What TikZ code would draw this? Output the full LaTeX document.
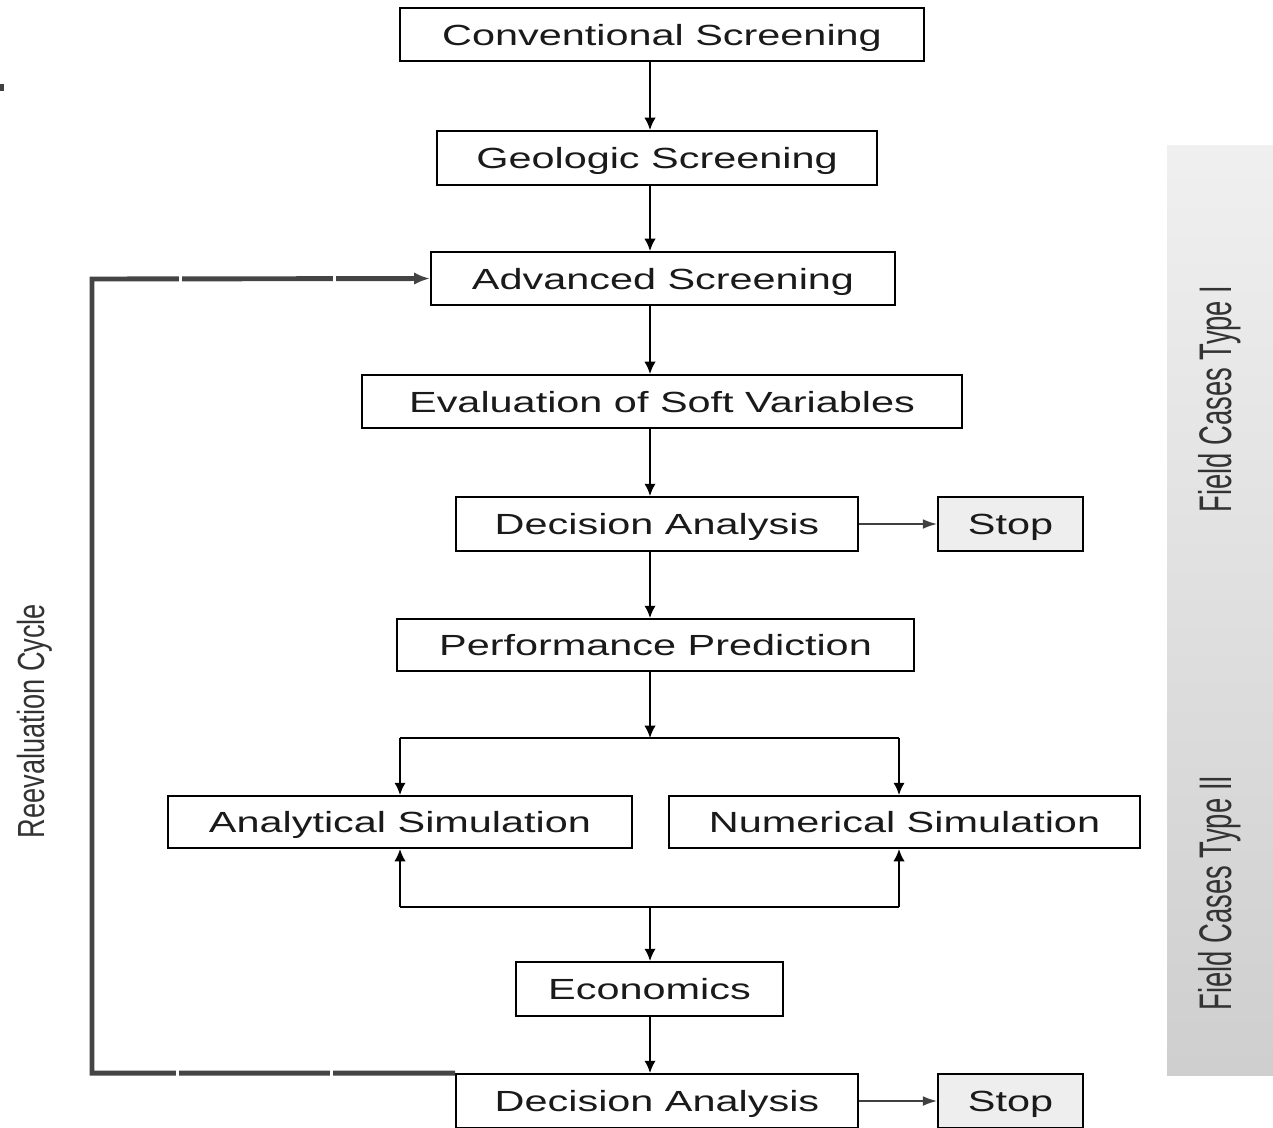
\documentclass[tikz,border=0pt]{standalone}
\usepackage{fontspec}
\setmainfont{Liberation Sans}
\newfontfamily\widefont[FakeStretch=1.42]{Liberation Sans}
\newfontfamily\cyclefont[FakeStretch=0.72]{Liberation Sans}
\newfontfamily\bandfont[FakeStretch=0.6]{Liberation Sans}
\usetikzlibrary{arrows.meta}

\definecolor{txt}{HTML}{1A1A1A}
\definecolor{cyclegray}{HTML}{444444}
\definecolor{stopfill}{HTML}{EEEEEE}
\def\pxu{0.02cm}

\tikzset{wh/.style 2 args={minimum width=#1*\pxu, minimum height=#2*\pxu}}

\begin{document}
\begin{tikzpicture}[x=0.02cm, y=-0.02cm,
   box/.style={draw=black, line width=1.1pt, inner sep=0pt, text=txt,
      text depth=0pt, font=\widefont\fontsize{16.6}{18}\selectfont},
   stopbox/.style={box, fill=stopfill},
   arr/.style={line width=1.1pt, -{Latex[length=7pt,width=6.5pt]}},
   stoparr/.style={line width=0.9pt, draw=black!75, -{Latex[length=8pt,width=5.5pt]}},
   plain/.style={line width=1.1pt},
   cycleline/.style={line width=2.8pt, draw=cyclegray, line join=miter},
   side/.style={text=black!80, inner sep=0pt}]

   \useasboundingbox (0,0) rectangle (1273,1127);

   % shaded band on the right
   \shade[top color=black!6, middle color=black!10, bottom color=black!19]
      (1167,145) rectangle (1273,1075);
   \node[side, rotate=90, font=\bandfont\fontsize{26}{28}\selectfont] (type1) at (1220,399) {Field Cases Type I};
   \node[side, rotate=90, font=\bandfont\fontsize{26}{28}\selectfont] (type2) at (1220,893) {Field Cases Type II};

   \fill[black!75] (0,84) rectangle (4,91);

   % boxes
   \node[box, wh={524}{53}] (conv) at (662,34.5) {Conventional Screening};
   \node[box, wh={440}{54}] (geo)  at (657,158)  {Geologic Screening};
   \node[box, wh={464}{53}] (adv)  at (663,278.5) {Advanced Screening};
   \node[box, wh={600}{53}] (soft) at (662,401.5) {Evaluation of Soft Variables};
   \node[box, wh={402}{54}] (dec1) at (657,524)  {Decision Analysis};
   \node[stopbox, wh={145}{54}] (stop1) at (1010.5,524) {Stop};
   \node[box, wh={517}{52}] (perf) at (655.5,645) {Performance Prediction};
   \node[box, wh={464}{52}] (ana)  at (400,822)  {Analytical Simulation};
   \node[box, wh={471}{52}] (num)  at (904.5,822) {Numerical Simulation};
   \node[box, wh={267}{54}] (eco)  at (649.5,989) {Economics};
   \node[box, wh={402}{54}] (dec2) at (657,1101) {Decision Analysis};
   \node[stopbox, wh={145}{54}] (stop2) at (1010.5,1101) {Stop};

   % main flow
   \coordinate (spine) at (650,0);
   \draw[arr] (conv.south -| spine) -- (geo.north -| spine);
   \draw[arr] (geo.south -| spine) -- (adv.north -| spine);
   \draw[arr] (adv.south -| spine) -- (soft.north -| spine);
   \draw[arr] (soft.south -| spine) -- (dec1.north -| spine);
   \draw[arr] (dec1.south -| spine) -- (perf.north -| spine);
   \draw[stoparr] (dec1.east) -- (stop1.west);

   % split to the two simulations
   \coordinate (split)  at (650,738);
   \coordinate (splitL) at (400,738);
   \coordinate (splitR) at (899,738);
   \draw[arr] (perf.south -| spine) -- (split);
   \draw[plain] (splitL) -- (splitR);
   \draw[arr] (splitL) -- (ana.north -| splitL);
   \draw[arr] (splitR) -- (num.north -| splitR);

   % and back together
   \coordinate (join)  at (650,907);
   \coordinate (joinL) at (400,907);
   \coordinate (joinR) at (899,907);
   \draw[plain] (joinL) -- (joinR);
   \draw[arr] (joinL) -- (ana.south -| joinL);
   \draw[arr] (joinR) -- (num.south -| joinR);
   \draw[arr] (join) -- (eco.north -| join);
   \draw[arr] (eco.south -| spine) -- (dec2.north -| spine);
   \draw[stoparr] (dec2.east) -- (stop2.west);

   % reevaluation loop
   \coordinate (cycTL) at (92,279);
   \coordinate (cycBL) at (dec2.north west -| cycTL);
   \draw[cycleline, -{Latex[length=9pt,width=7pt]}]
      (dec2.north west) -- (cycBL) -- (cycTL) -- (adv.west);
   \foreach \g in {180,334}
      \fill[white] (\g-1.5,272) rectangle ++(3,14);
   \foreach \g in {177,331}
      \fill[white] (\g-1.5,1067) rectangle ++(3,14);
   \node[side, rotate=90, font=\cyclefont\fontsize{21.5}{24}\selectfont] (cyclab) at (35,721) {Reevaluation Cycle};

\end{tikzpicture}
\end{document}
